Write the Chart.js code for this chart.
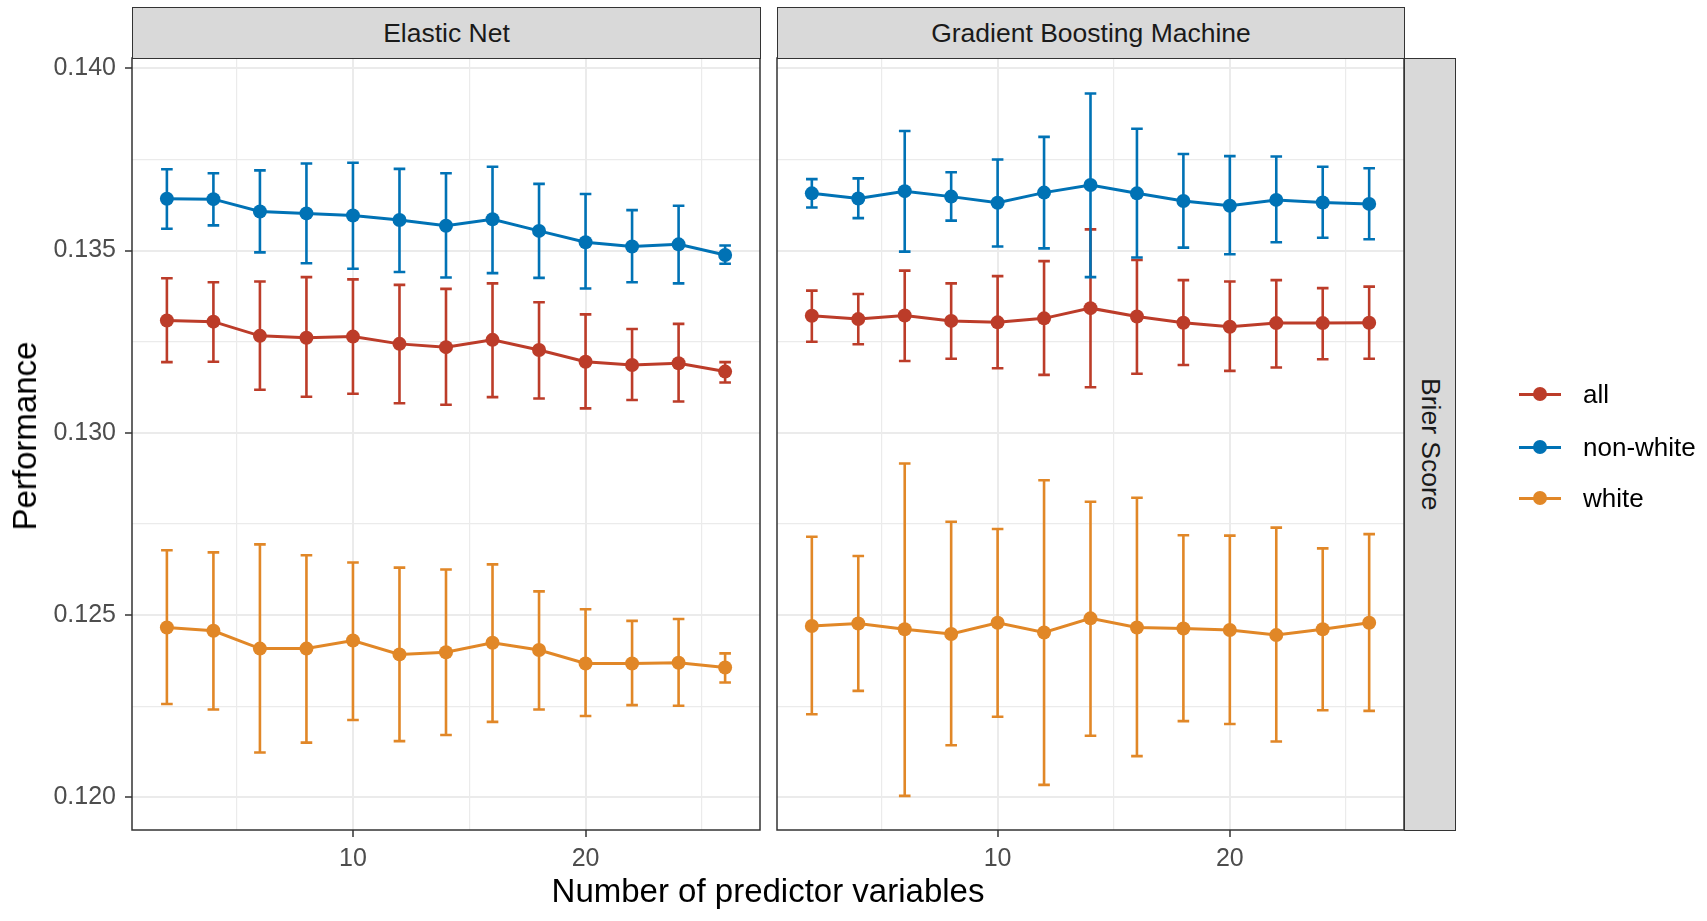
<!DOCTYPE html>
<html>
<head>
<meta charset="utf-8">
<script src="https://cdn.jsdelivr.net/npm/chart.js@4.4.1/dist/chart.umd.min.js"></script>
<style>
  body { margin: 0; background: #fff; font-family: "Liberation Sans", Arial, sans-serif; }
  #page { position: relative; width: 1707px; height: 921px; overflow: hidden; }
  canvas { position: absolute; top: 0; }
  .strip { position: absolute; box-sizing: border-box; background: #D9D9D9; border: 1.5px solid #333;
           color: #1A1A1A; font-size: 26.5px; display: flex; align-items: center; justify-content: center; }
  .strip.side { writing-mode: vertical-rl; }
  .title { position: absolute; color: #000; white-space: nowrap; }
  .key { position: absolute; display: flex; align-items: center; height: 30px; font-size: 26px; color: #000; }
  .key .sym { position: relative; width: 42px; height: 30px; margin-right: 22px; }
  .key .sym i { position: absolute; left: 0; right: 0; top: 13.5px; height: 3px; }
  .key .sym b { position: absolute; left: 14px; top: 8px; width: 14px; height: 14px; border-radius: 50%; }
</style>
</head>
<body>
<div id="page">
  <canvas id="enChart" width="761" height="921" style="left:0"></canvas>
  <canvas id="gbmChart" width="946" height="921" style="left:761px"></canvas>
  <div class="strip" style="left:132px; top:7px; width:629px; height:52px">Elastic Net</div>
  <div class="strip" style="left:777px; top:7px; width:628px; height:52px">Gradient Boosting Machine</div>
  <div class="strip side" style="left:1404px; top:58px; width:52px; height:773px">Brier Score</div>
  <div class="title" style="left:25px; top:436px; font-size:33px; transform: translate(-50%, -50%) rotate(-90deg)">Performance</div>
  <div class="title" style="left:0; width:1536px; text-align:center; top:872px; font-size:33px; line-height:38px">Number of predictor variables</div>
  <div id="legend"></div>
</div>
<script>
const nPredictors = [2, 4, 6, 8, 10, 12, 14, 16, 18, 20, 22, 24, 26]

const seriesLabels = ['all', 'non-white', 'white']
const seriesColors = ['#BC3C29', '#0072B5', '#E18727']

// Elastic Net
const enAll = [0.13308, 0.13305, 0.13266, 0.13261, 0.13264, 0.13244, 0.13235, 0.13255, 0.13227, 0.13195, 0.13186, 0.13191, 0.13168]
const enAllLow = [0.13194, 0.13195, 0.13118, 0.13099, 0.13107, 0.13081, 0.13077, 0.13098, 0.13094, 0.13067, 0.13090, 0.13086, 0.13138]
const enAllHigh = [0.13424, 0.13413, 0.13415, 0.13427, 0.13421, 0.13406, 0.13395, 0.13410, 0.13358, 0.13325, 0.13285, 0.13299, 0.13194]

const enNonWhite = [0.13642, 0.13641, 0.13607, 0.13602, 0.13596, 0.13584, 0.13568, 0.13586, 0.13554, 0.13523, 0.13511, 0.13517, 0.13488]
const enNonWhiteLow = [0.13560, 0.13569, 0.13495, 0.13465, 0.13450, 0.13441, 0.13426, 0.13438, 0.13425, 0.13396, 0.13413, 0.13410, 0.13464]
const enNonWhiteHigh = [0.13723, 0.13712, 0.13720, 0.13739, 0.13741, 0.13724, 0.13712, 0.13730, 0.13683, 0.13655, 0.13611, 0.13623, 0.13514]

const enWhite = [0.12466, 0.12457, 0.12408, 0.12408, 0.12430, 0.12392, 0.12398, 0.12424, 0.12404, 0.12367, 0.12367, 0.12369, 0.12356]
const enWhiteLow = [0.12256, 0.12241, 0.12123, 0.12150, 0.12212, 0.12154, 0.12171, 0.12207, 0.12241, 0.12223, 0.12253, 0.12251, 0.12315]
const enWhiteHigh = [0.12678, 0.12672, 0.12694, 0.12664, 0.12644, 0.12630, 0.12625, 0.12639, 0.12565, 0.12516, 0.12484, 0.12489, 0.12395]

// Gradient Boosting Machine
const gbmAll = [0.13321, 0.13312, 0.13322, 0.13307, 0.13303, 0.13314, 0.13342, 0.13319, 0.13302, 0.13291, 0.13301, 0.13301, 0.13302]
const gbmAllLow = [0.13250, 0.13243, 0.13197, 0.13203, 0.13177, 0.13159, 0.13125, 0.13162, 0.13186, 0.13170, 0.13179, 0.13202, 0.13203]
const gbmAllHigh = [0.13390, 0.13381, 0.13445, 0.13410, 0.13430, 0.13471, 0.13558, 0.13474, 0.13419, 0.13415, 0.13419, 0.13397, 0.13401]

const gbmNonWhite = [0.13657, 0.13643, 0.13663, 0.13648, 0.13631, 0.13659, 0.13680, 0.13657, 0.13636, 0.13623, 0.13639, 0.13632, 0.13628]
const gbmNonWhiteLow = [0.13618, 0.13589, 0.13497, 0.13582, 0.13511, 0.13506, 0.13427, 0.13481, 0.13508, 0.13490, 0.13523, 0.13535, 0.13531]
const gbmNonWhiteHigh = [0.13696, 0.13698, 0.13828, 0.13715, 0.13750, 0.13812, 0.13931, 0.13834, 0.13765, 0.13759, 0.13758, 0.13730, 0.13726]

const gbmWhite = [0.12470, 0.12477, 0.12461, 0.12448, 0.12479, 0.12452, 0.12491, 0.12466, 0.12463, 0.12459, 0.12445, 0.12461, 0.12479]
const gbmWhiteLow = [0.12228, 0.12292, 0.12004, 0.12143, 0.12221, 0.12034, 0.12169, 0.12113, 0.12209, 0.12201, 0.12153, 0.12239, 0.12237]
const gbmWhiteHigh = [0.12715, 0.12662, 0.12916, 0.12756, 0.12736, 0.12870, 0.12811, 0.12822, 0.12719, 0.12718, 0.12740, 0.12683, 0.12722]

// axis ticks (empty label = minor gridline)
const yTicks = [0.1200, 0.1225, 0.1250, 0.1275, 0.1300, 0.1325, 0.1350, 0.1375, 0.1400]
const yTickLabels = ['0.120', '', '0.125', '', '0.130', '', '0.135', '', '0.140']
const xTicks = [5, 10, 15, 20, 25]
const xTickLabels = ['', '10', '', '20', '']

const FONT = '"Liberation Sans", Arial, sans-serif'
const capWidth = 0.5

const errorBars = {
    id: 'errorBars',
    beforeDatasetsDraw(chart) {
        const { ctx, scales: { x, y } } = chart
        const sets = chart.data.datasets.slice().sort((a, b) => b.order - a.order)
        sets.forEach(ds => {
            ctx.save()
            ctx.strokeStyle = ds.borderColor
            ctx.lineWidth = 2.6
            ds.data.forEach((pt, i) => {
                const px = x.getPixelForValue(pt.x)
                const hw = x.getPixelForValue(pt.x + capWidth / 2) - px
                const lo = y.getPixelForValue(ds.errLow[i])
                const hi = y.getPixelForValue(ds.errHigh[i])
                ctx.beginPath()
                ctx.moveTo(px, lo); ctx.lineTo(px, hi)
                ctx.moveTo(px - hw, lo); ctx.lineTo(px + hw, lo)
                ctx.moveTo(px - hw, hi); ctx.lineTo(px + hw, hi)
                ctx.stroke()
            })
            ctx.restore()
        })
    }
}

const panelBorder = {
    id: 'panelBorder',
    afterDraw(chart) {
        const { ctx, chartArea: a } = chart
        ctx.save()
        ctx.strokeStyle = '#333333'
        ctx.lineWidth = 1.5
        ctx.strokeRect(a.left, a.top, a.right - a.left, a.bottom - a.top)
        ctx.restore()
    }
}

const makeDatasets = (means, lows, highs) => means.map((m, k) => ({
    label: seriesLabels[k],
    data: nPredictors.map((n, i) => ({ x: n, y: m[i] })),
    errLow: lows[k],
    errHigh: highs[k],
    borderColor: seriesColors[k],
    backgroundColor: seriesColors[k],
    borderWidth: 3,
    pointRadius: 7,
    pointBorderWidth: 0,
    pointBackgroundColor: seriesColors[k],
    tension: 0,
    order: 3 - k,
}))

const makePanel = (canvasId, datasets, withYLabels, yWidth, padRight) => {
    const context = document.getElementById(canvasId).getContext('2d')
    return new Chart(context, {
        type: 'line',
        data: { datasets },
        plugins: [errorBars, panelBorder],
        options: {
            responsive: false,
            animation: false,
            layout: { autoPadding: false, padding: { top: 58, right: padRight, bottom: 0, left: 0 } },
            plugins: { legend: { display: false }, tooltip: { enabled: false } },
            scales: {
                x: {
                    type: 'linear', min: 0.5, max: 27.5,
                    afterBuildTicks: s => { s.ticks = xTicks.map(v => ({ value: v })) },
                    afterFit: s => { s.height = 91 },
                    border: { display: false },
                    grid: {
                        color: '#EBEBEB',
                        lineWidth: c => xTickLabels[c.index] ? 2 : 1.2,
                        tickLength: 7,
                        tickWidth: 1.5,
                        tickColor: c => xTickLabels[c.index] ? '#333333' : 'rgba(0,0,0,0)',
                    },
                    ticks: {
                        callback: (v, i) => xTickLabels[i],
                        color: '#4D4D4D', padding: 7, maxRotation: 0, autoSkip: false,
                        font: { family: FONT, size: 25 },
                    },
                },
                y: {
                    type: 'linear', min: 0.119103, max: 0.140283,
                    afterBuildTicks: s => { s.ticks = yTicks.map(v => ({ value: v })) },
                    afterFit: s => { s.width = yWidth },
                    border: { display: false },
                    grid: {
                        color: '#EBEBEB',
                        lineWidth: c => yTickLabels[c.index] ? 2 : 1.2,
                        drawTicks: withYLabels,
                        tickLength: 7,
                        tickWidth: 1.5,
                        tickColor: c => yTickLabels[c.index] ? '#333333' : 'rgba(0,0,0,0)',
                    },
                    ticks: {
                        display: withYLabels,
                        callback: (v, i) => yTickLabels[i],
                        color: '#4D4D4D', padding: 9, autoSkip: false,
                        font: { family: FONT, size: 25 },
                    },
                },
            },
        },
    })
}

makePanel('enChart', makeDatasets(
    [enAll, enNonWhite, enWhite],
    [enAllLow, enNonWhiteLow, enWhiteLow],
    [enAllHigh, enNonWhiteHigh, enWhiteHigh]), true, 132, 1)

makePanel('gbmChart', makeDatasets(
    [gbmAll, gbmNonWhite, gbmWhite],
    [gbmAllLow, gbmNonWhiteLow, gbmWhiteLow],
    [gbmAllHigh, gbmNonWhiteHigh, gbmWhiteHigh]), false, 16, 303)

// legend
const legendRows = [394, 447, 498]
const legend = document.getElementById('legend')
seriesLabels.forEach((label, k) => {
    const row = document.createElement('div')
    row.className = 'key'
    row.style.left = '1519px'
    row.style.top = (legendRows[k] - 15) + 'px'
    row.innerHTML = `<span class="sym"><i style="background:${seriesColors[k]}"></i><b style="background:${seriesColors[k]}"></b></span><span>${label}</span>`
    legend.appendChild(row)
})
</script>
</body>
</html>
